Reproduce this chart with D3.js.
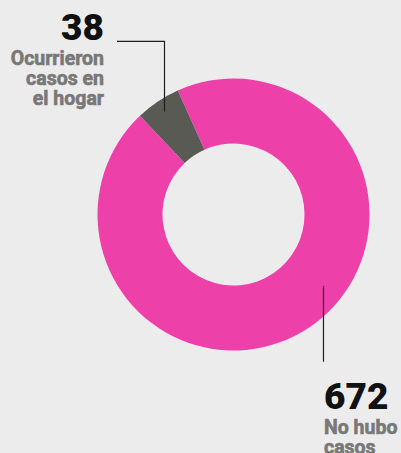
<!DOCTYPE html>
<html>
<head>
<meta charset="utf-8">
<script src="https://cdn.jsdelivr.net/npm/d3@7"></script>
<style>
  html, body { margin: 0; padding: 0; background: #ececec; }
  svg { display: block; }
</style>
</head>
<body>
<svg id="chart"></svg>
<script>
// data
const categories = ["No hubo casos", "Ocurrieron casos en el hogar"];
const values = [672, 38];
const labelLines = [["No hubo", "casos"], ["Ocurrieron", "casos en", "el hogar"]];
const colors = ["#ed41a9", "#5a5a55"];

const W = 401, H = 453;
const cx = 233.5, cy = 214.5;
const outerR = 136, innerR = 71;

const svg = d3.select("svg#chart").attr("width", W).attr("height", H);

const pie = d3.pie()
    .sort(null)
    .value(d => d)
    .startAngle(-0.422)
    .endAngle(-0.422 + 2 * Math.PI);

const arc = d3.arc().innerRadius(innerR).outerRadius(outerR);

const slices = pie(values);

const g = svg.append("g").attr("transform", `translate(${cx},${cy})`);

g.selectAll("path.slice")
    .data(slices)
    .enter().append("path")
    .attr("class", "slice")
    .attr("d", arc)
    .attr("fill", (d, i) => colors[i]);

// annotation layout: where the leader touches the ring, and where the label sits
const notes = [
    // big slice: point on ring, then straight down
    { angle: 2.243, r: 115, lineEndY: 361.7, numX: 324, numY: 409, anchor: "start" },
    // small slice: point at slice middle, up, then left
    { angle: null, r: 124, lineTopY: 41.3, lineLeftX: 117, numX: 104, numY: 40, anchor: "end" }
];

const polar = (a, r) => [cx + r * Math.sin(a), cy - r * Math.cos(a)];

const ann = svg.append("g").attr("class", "annotations");

slices.forEach((s, i) => {
    const n = notes[i];
    const a = n.angle !== null ? n.angle : (s.startAngle + s.endAngle) / 2;
    const p = polar(a, n.r);

    let pts;
    if (i === 0) {
        pts = [p, [p[0], n.lineEndY]];
    } else {
        pts = [p, [p[0], n.lineTopY], [n.lineLeftX, n.lineTopY]];
    }
    ann.append("path")
        .attr("d", d3.line()(pts))
        .attr("fill", "none")
        .attr("stroke", "#1e1e1e")
        .attr("stroke-width", 1.2);

    ann.append("text")
        .attr("x", n.numX)
        .attr("y", n.numY)
        .attr("text-anchor", n.anchor)
        .attr("font-family", "Roboto, sans-serif")
        .attr("font-weight", 900)
        .attr("font-size", 37)
        .attr("fill", "#111")
        .text(values[i]);

    // labels, thickened a little with a stroke of the same colour
    const t = ann.append("text")
        .attr("text-anchor", n.anchor)
        .attr("font-family", "Roboto, sans-serif")
        .attr("font-weight", 700)
        .attr("font-size", 19.5)
        .attr("fill", "#787878")
        .attr("stroke", "#787878")
        .attr("stroke-width", 0.6);
    labelLines[i].forEach((line, k) => {
        t.append("tspan")
            .attr("x", n.numX)
            .attr("y", n.numY + 24.5 + k * 20.3)
            .text(line);
    });
});
</script>
</body>
</html>
